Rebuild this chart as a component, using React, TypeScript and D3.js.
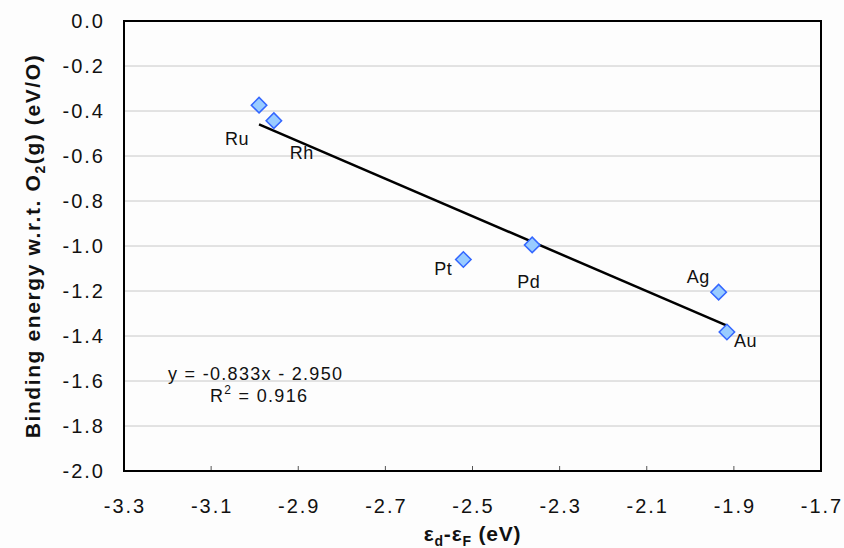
import { useEffect, useRef } from 'react';
import * as d3 from 'd3';

// metals, d-band centre (eV) and O binding energy (eV/O)
const metals = ['Ru', 'Rh', 'Pt', 'Pd', 'Ag', 'Au'];
const dBand = [-2.99, -2.956, -2.521, -2.363, -1.935, -1.916];
const binding = [-0.374, -0.443, -1.06, -0.995, -1.205, -1.382];

const xTicks = [-3.3, -3.1, -2.9, -2.7, -2.5, -2.3, -2.1, -1.9, -1.7];
const yTicks = [0, -0.2, -0.4, -0.6, -0.8, -1.0, -1.2, -1.4, -1.6, -1.8, -2.0];

const slope = -0.833;
const intercept = -2.95;
const r2 = 0.916;

// label offsets relative to the marker (px)
const labelOffset: Record<string, [number, number]> = {
  Ru: [-34, 40],
  Rh: [16, 38],
  Pt: [-29, 15],
  Pd: [-15, 43],
  Ag: [-32, -9],
  Au: [7, 15],
};

const W = 844;
const H = 548;
const margin = { top: 21, right: 23, bottom: 77, left: 124 };

// plain hyphen instead of unicode minus, like the original
const fmt = (v: number) => v.toFixed(1).replace('−', '-');

export default function App() {
  const svgRef = useRef<SVGSVGElement>(null);

  useEffect(() => {
    if (!svgRef.current) return;
    const svg = d3.select(svgRef.current);
    svg.selectAll('*').remove();

    const font = '"Liberation Sans", Arial, sans-serif';
    const iw = W - margin.left - margin.right;
    const ih = H - margin.top - margin.bottom;

    const x = d3.scaleLinear().domain([-3.3, -1.7]).range([0, iw]);
    const y = d3.scaleLinear().domain([-2.0, 0]).range([ih, 0]);

    svg.append('rect').attr('width', W).attr('height', H).attr('fill', '#fdfdfd');

    const g = svg.append('g').attr('transform', `translate(${margin.left},${margin.top})`);

    // horizontal gridlines
    g.append('g')
      .selectAll('line')
      .data(yTicks.slice(1, -1))
      .enter()
      .append('line')
      .attr('x1', 0)
      .attr('x2', iw)
      .attr('y1', d => y(d))
      .attr('y2', d => y(d))
      .attr('stroke', '#c8c8c8')
      .attr('stroke-width', 1);

    // inner x ticks
    g.append('g')
      .selectAll('line')
      .data(xTicks.slice(1, -1))
      .enter()
      .append('line')
      .attr('x1', d => x(d))
      .attr('x2', d => x(d))
      .attr('y1', ih)
      .attr('y2', ih - 5)
      .attr('stroke', '#555')
      .attr('stroke-width', 1);

    // frame
    g.append('rect')
      .attr('width', iw)
      .attr('height', ih)
      .attr('fill', 'none')
      .attr('stroke', '#000')
      .attr('stroke-width', 2);

    // y tick labels
    g.append('g')
      .selectAll('text')
      .data(yTicks)
      .enter()
      .append('text')
      .attr('x', -19)
      .attr('y', d => y(d) + 7)
      .attr('text-anchor', 'end')
      .attr('font-family', font)
      .attr('font-size', 20)
      .attr('letter-spacing', 2)
      .attr('fill', '#111')
      .text(d => fmt(d));

    // x tick labels
    g.append('g')
      .selectAll('text')
      .data(xTicks)
      .enter()
      .append('text')
      .attr('x', d => x(d) + 1)
      .attr('y', ih + 42)
      .attr('text-anchor', 'middle')
      .attr('font-family', font)
      .attr('font-size', 20)
      .attr('letter-spacing', 2)
      .attr('fill', '#111')
      .text(d => fmt(d));

    // trend line across data range
    const [xMin, xMax] = d3.extent(dBand) as [number, number];
    g.append('line')
      .attr('x1', x(xMin))
      .attr('y1', y(slope * xMin + intercept))
      .attr('x2', x(xMax))
      .attr('y2', y(slope * xMax + intercept))
      .attr('stroke', '#000')
      .attr('stroke-width', 2.5);

    const pts = metals.map((m, i) => ({ m, xv: dBand[i], yv: binding[i] }));

    // markers
    g.append('g')
      .selectAll('path')
      .data(pts)
      .enter()
      .append('path')
      .attr('d', d3.symbol().type(d3.symbolSquare).size(120)())
      .attr('transform', d => `translate(${x(d.xv)},${y(d.yv)}) rotate(45)`)
      .attr('fill', '#99ccff')
      .attr('stroke', '#3366ff')
      .attr('stroke-width', 1.5);

    // point labels
    g.append('g')
      .selectAll('text')
      .data(pts)
      .enter()
      .append('text')
      .attr('x', d => x(d.xv) + labelOffset[d.m][0])
      .attr('y', d => y(d.yv) + labelOffset[d.m][1])
      .attr('font-family', font)
      .attr('font-size', 18)
      .attr('letter-spacing', 0.5)
      .attr('fill', '#111')
      .text(d => d.m);

    // regression equation
    g.append('text')
      .attr('x', 44)
      .attr('y', 359)
      .attr('font-family', font)
      .attr('font-size', 18)
      .attr('letter-spacing', 1.3)
      .attr('fill', '#111')
      .text(`y = ${slope.toFixed(3)}x - ${Math.abs(intercept).toFixed(3)}`);
    const r = g.append('text')
      .attr('x', 86)
      .attr('y', 381)
      .attr('font-family', font)
      .attr('font-size', 18)
      .attr('letter-spacing', 1.3)
      .attr('fill', '#111');
    r.append('tspan').text('R');
    r.append('tspan').attr('dy', -8).attr('font-size', 12).text('2');
    r.append('tspan').attr('dy', 8).text(` = ${r2.toFixed(3)}`);

    // x axis title
    const xt = svg.append('text')
      .attr('x', margin.left + iw / 2)
      .attr('y', 541)
      .attr('text-anchor', 'middle')
      .attr('font-family', font)
      .attr('font-size', 21)
      .attr('font-weight', 'bold')
      .attr('letter-spacing', 0.8)
      .attr('fill', '#111');
    xt.append('tspan').text('ε');
    xt.append('tspan').attr('dy', 5).attr('font-size', 14).text('d');
    xt.append('tspan').attr('dy', -5).text('-ε');
    xt.append('tspan').attr('dy', 5).attr('font-size', 14).text('F');
    xt.append('tspan').attr('dy', -5).text(' (eV)');

    // y axis title
    const yt = svg.append('text')
      .attr('transform', `translate(40,${margin.top + ih / 2}) rotate(-90)`)
      .attr('text-anchor', 'middle')
      .attr('font-family', font)
      .attr('font-size', 21)
      .attr('font-weight', 'bold')
      .attr('letter-spacing', 1.6)
      .attr('fill', '#111');
    yt.append('tspan').text('Binding energy w.r.t. O');
    yt.append('tspan').attr('dy', 5).attr('font-size', 14).text('2');
    yt.append('tspan').attr('dy', -5).text('(g) (eV/O)');
  }, []);

  return (
    <svg
      ref={svgRef}
      width={W}
      height={H}
      style={{ position: 'absolute', left: 0, top: 0, display: 'block' }}
    />
  );
}
